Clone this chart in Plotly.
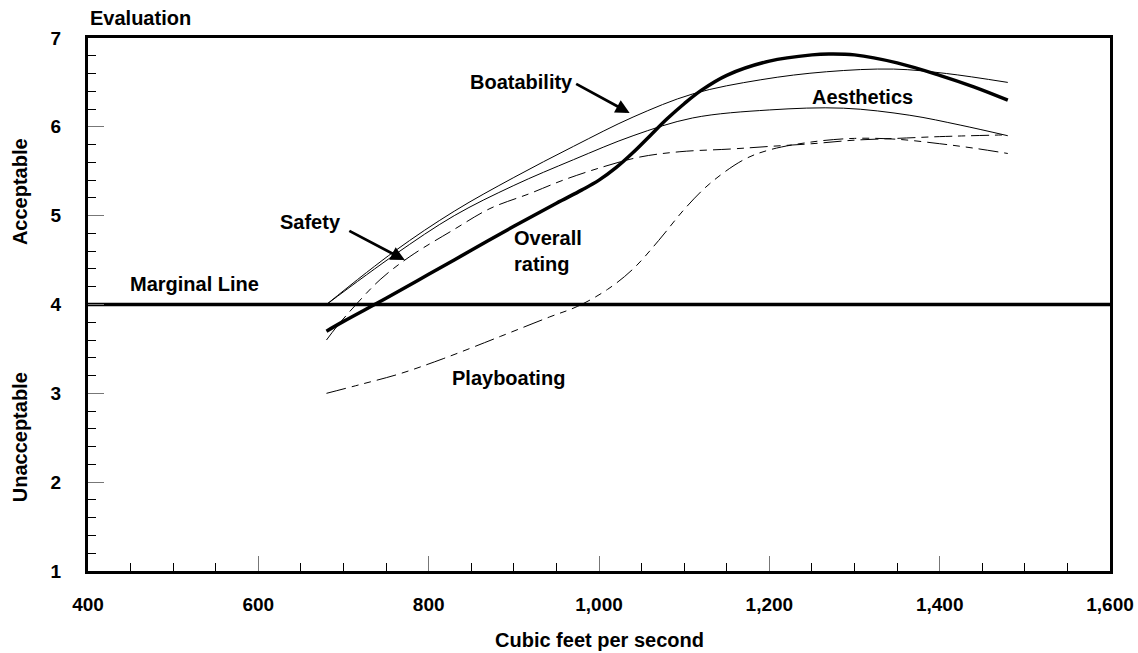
import plotly.graph_objects as go

# ---- data ----
overall_x = [680, 700, 750, 800, 850, 900, 950, 980, 1000, 1020, 1040, 1060, 1080, 1100, 1120, 1150, 1200, 1250, 1270, 1300, 1350, 1400, 1440, 1480]
overall_y = [3.70, 3.81, 4.07, 4.34, 4.61, 4.88, 5.14, 5.29, 5.40, 5.54, 5.71, 5.90, 6.09, 6.26, 6.41, 6.58, 6.74, 6.81, 6.82, 6.81, 6.72, 6.58, 6.45, 6.30]

boat_x = [680, 760, 830, 900, 970, 1040, 1110, 1190, 1267, 1346, 1408, 1480]
boat_y = [4.00, 4.60, 5.05, 5.43, 5.78, 6.11, 6.37, 6.53, 6.62, 6.65, 6.60, 6.50]

aes_x = [680, 760, 830, 900, 970, 1040, 1110, 1200, 1287, 1365, 1424, 1480]
aes_y = [4.00, 4.56, 5.00, 5.34, 5.63, 5.90, 6.10, 6.19, 6.21, 6.13, 6.02, 5.90]

safety_x = [680, 692, 711, 743, 778, 829, 872, 919, 958, 1005, 1048, 1095, 1154, 1201, 1250, 1300, 1350, 1400, 1480]
safety_y = [3.60, 3.75, 3.96, 4.28, 4.54, 4.84, 5.08, 5.25, 5.40, 5.55, 5.66, 5.72, 5.75, 5.78, 5.81, 5.85, 5.87, 5.89, 5.91]

play_x = [680, 720, 766, 817, 884, 942, 975, 1010, 1040, 1070, 1100, 1130, 1170, 1200, 1250, 1300, 1350, 1400, 1440, 1480]
play_y = [3.00, 3.10, 3.22, 3.39, 3.64, 3.86, 3.98, 4.17, 4.40, 4.72, 5.07, 5.36, 5.63, 5.74, 5.83, 5.87, 5.86, 5.81, 5.76, 5.70]

marginal_x = [400, 1600]
marginal_y = [4, 4]

x_range = [400, 1600]
y_range = [1, 7]

FONT = "Liberation Sans, Arial, sans-serif"
FS = 19      # tick labels
LFS = 20     # text labels

fig = go.Figure()

fig.add_trace(go.Scatter(x=marginal_x, y=marginal_y, mode="lines",
                         line=dict(color="black", width=3.5), hoverinfo="skip"))
fig.add_trace(go.Scatter(x=play_x, y=play_y, mode="lines",
                         line=dict(color="black", width=1, shape="spline", smoothing=1.0,
                                   dash="20px,6px,7px,6px,7px,6px")))
fig.add_trace(go.Scatter(x=safety_x, y=safety_y, mode="lines",
                         line=dict(color="black", width=1, shape="spline", smoothing=1.0,
                                   dash="18px,6px,7px,6px")))
fig.add_trace(go.Scatter(x=aes_x, y=aes_y, mode="lines",
                         line=dict(color="black", width=1, shape="spline", smoothing=1.0)))
fig.add_trace(go.Scatter(x=boat_x, y=boat_y, mode="lines",
                         line=dict(color="black", width=1, shape="spline", smoothing=1.0)))
fig.add_trace(go.Scatter(x=overall_x, y=overall_y, mode="lines",
                         line=dict(color="black", width=3.5, shape="spline", smoothing=1.0)))

bold = dict(family=FONT, size=LFS, color="black")

def label(text, x, y, **kw):
    fig.add_annotation(text="<b>%s</b>" % text.replace("\n", "</b><br><b>"), x=x, y=y,
                       showarrow=False, font=bold, **kw)

label("Boatability", 909, 6.50)
label("Aesthetics", 1309, 6.34)
label("Safety", 661, 4.93)
label("Overall\nrating", 898, 4.60, xanchor="left", align="left")
label("Playboating", 894, 3.17)
label("Marginal Line", 525, 4.23)

# arrows
for hx, hy, ax, ay in [(1036, 6.155, -55, -30), (772, 4.50, -57, -30)]:
    fig.add_annotation(x=hx, y=hy, ax=ax, ay=ay, text="", showarrow=True,
                       arrowhead=2, arrowsize=1.0, arrowwidth=2.8, arrowcolor="black")

# paper labels
fig.add_annotation(text="<b>Evaluation</b>", xref="paper", yref="paper", x=0, y=1.0375,
                   xanchor="left", yanchor="middle", showarrow=False, font=bold)
fig.add_annotation(text="<b>Cubic feet per second</b>", xref="paper", yref="paper", x=0.5, y=-0.1295,
                   xanchor="center", yanchor="middle", showarrow=False, font=bold)
fig.add_annotation(text="<b>Acceptable</b>", xref="paper", yref="paper", x=-0.0665, y=0.711,
                   xanchor="center", yanchor="middle", textangle=-90, showarrow=False, font=bold)
fig.add_annotation(text="<b>Unacceptable</b>", xref="paper", yref="paper", x=-0.0665, y=0.251,
                   xanchor="center", yanchor="middle", textangle=-90, showarrow=False, font=bold)

fig.update_layout(
    width=1138, height=653,
    margin=dict(l=88, r=28, t=38, b=82),
    paper_bgcolor="white", plot_bgcolor="white",
    showlegend=False,
    font=dict(family=FONT, size=FS, color="black"),
)
fig.update_xaxes(range=x_range, tickmode="linear", tick0=400, dtick=200, tickformat=",d",
                 ticks="inside", ticklen=15, tickwidth=1, tickcolor="#777",
                 showline=True, linewidth=3, linecolor="black", mirror=True,
                 showgrid=False, zeroline=False, ticklabelstandoff=14, automargin=False,
                 tickfont=dict(family=FONT, size=FS, color="black", weight="bold"),
                 minor=dict(ticks="inside", ticklen=8, tickwidth=1, tickcolor="black", dtick=50, showgrid=False))
fig.update_yaxes(range=y_range, tickmode="linear", tick0=1, dtick=1,
                 ticks="inside", ticklen=16, tickwidth=1, tickcolor="#777",
                 showline=True, linewidth=3, linecolor="black", mirror=True,
                 showgrid=False, zeroline=False, ticklabelstandoff=20, automargin=False,
                 tickfont=dict(family=FONT, size=FS, color="black", weight="bold"),
                 minor=dict(ticks="inside", ticklen=8, tickwidth=1, tickcolor="black", dtick=0.2, showgrid=False))

fig.write_html("out.html", config={"displayModeBar": False},
               post_script="document.body.style.margin='0';document.body.style.overflow='hidden';")
